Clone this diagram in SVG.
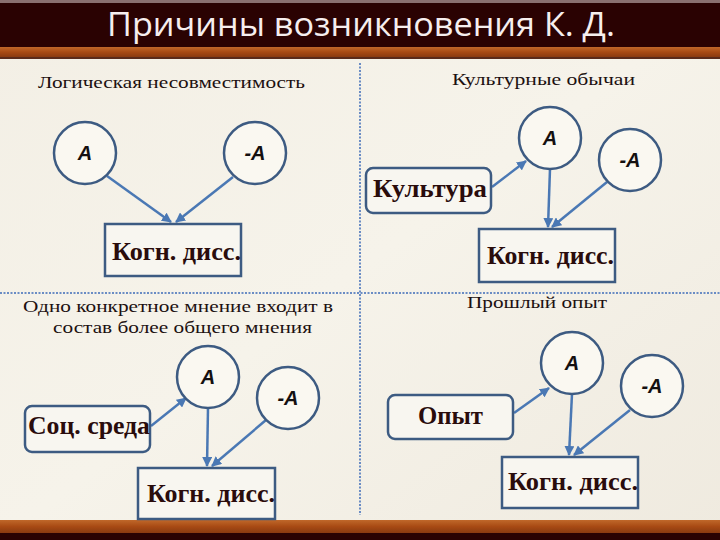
<svg xmlns="http://www.w3.org/2000/svg" width="720" height="540" viewBox="0 0 720 540">
<defs>
<linearGradient id="bg" x1="0" y1="0" x2="1" y2="1">
<stop offset="0" stop-color="#f3efe5"/>
<stop offset="0.5" stop-color="#f6f3ea"/>
<stop offset="1" stop-color="#efeadf"/>
</linearGradient>
<linearGradient id="orange" x1="0" y1="0" x2="0" y2="1">
<stop offset="0" stop-color="#c0682a"/>
<stop offset="0.5" stop-color="#a84a14"/>
<stop offset="1" stop-color="#8a3a10"/>
</linearGradient>
<marker id="ah" viewBox="0 0 10 10" refX="9" refY="5" markerWidth="4" markerHeight="4" orient="auto" markerUnits="strokeWidth">
<path d="M0,0 L10,5 L0,10 z" fill="#4a78b4"/>
</marker>
<style>
.circ{fill:#faf8f1;stroke:#3d5b82;stroke-width:2.5}
.box{fill:#f8f6f0;stroke:#3d5b82;stroke-width:2.5}
.rbox{fill:#f8f6f0;stroke:#3d5b82;stroke-width:2.5}
.cl{font-family:"Liberation Sans",Arial,sans-serif;font-weight:bold;font-style:italic;font-size:20px;fill:#141010;text-anchor:middle}
.hd{font-family:"Liberation Serif","DejaVu Serif",serif;font-size:17px;fill:#1c1010}
.lb{font-family:"Liberation Serif","DejaVu Serif",serif;font-weight:bold;font-size:25px;fill:#2a0c0c}
.conn line{stroke:#4a78b4;stroke-width:2.5;marker-end:url(#ah)}
.div{stroke:#6a8cc4;stroke-width:2;stroke-dasharray:2 1.5;fill:none}
</style>
</defs>
<rect x="0" y="0" width="720" height="540" fill="url(#bg)"/>
<rect x="0" y="0" width="720" height="3" fill="#8a7070"/>
<rect x="0" y="3" width="720" height="44" fill="#2a0202"/>
<rect x="0" y="47" width="720" height="10" fill="url(#orange)"/>
<rect x="0" y="57" width="720" height="2" fill="#5a2a1a"/>
<rect x="0" y="520" width="720" height="13" fill="url(#orange)"/>
<rect x="0" y="533" width="720" height="7" fill="#2a0202"/>
<text x="107" y="36" font-family="'Open Sans','DejaVu Sans',sans-serif" font-size="32" fill="#f6eeee" textLength="508" lengthAdjust="spacingAndGlyphs">Причины возникновения К. Д.</text>

<line class="div" x1="0" y1="293" x2="720" y2="293"/>
<line class="div" x1="360" y1="63" x2="360" y2="515"/>

<text class="hd" x="38" y="88" textLength="267" lengthAdjust="spacingAndGlyphs">Логическая несовместимость</text>
<text class="hd" x="452" y="85" textLength="183" lengthAdjust="spacingAndGlyphs">Культурные обычаи</text>
<text class="hd" x="23" y="312" textLength="310" lengthAdjust="spacingAndGlyphs">Одно конкретное мнение входит в</text>
<text class="hd" x="53" y="333" textLength="259" lengthAdjust="spacingAndGlyphs">состав более общего мнения</text>
<text class="hd" x="467" y="308" textLength="140" lengthAdjust="spacingAndGlyphs">Прошлый опыт</text>

<g id="connectors" class="conn">
<line x1="107" y1="176" x2="171" y2="222"/>
<line x1="233" y1="177" x2="176" y2="222"/>
<line x1="492" y1="187" x2="526" y2="161"/>
<line x1="550" y1="169" x2="548" y2="227"/>
<line x1="607" y1="182" x2="552" y2="227"/>
<line x1="151" y1="426" x2="186" y2="398"/>
<line x1="208" y1="408" x2="207" y2="466"/>
<line x1="266" y1="420" x2="212" y2="466"/>
<line x1="514" y1="413" x2="549" y2="388"/>
<line x1="572" y1="394" x2="569" y2="455"/>
<line x1="630" y1="410" x2="574" y2="455"/>
</g>

<g id="q1-a"><circle class="circ" cx="85" cy="153" r="31"/><text class="cl" x="85" y="160">A</text></g>
<g id="q1-na"><circle class="circ" cx="255" cy="153" r="31"/><text class="cl" x="255" y="160">-A</text></g>
<g id="q1-kd"><rect class="box" x="105" y="224" width="136" height="52"/><text class="lb" x="112" y="260" textLength="129" lengthAdjust="spacingAndGlyphs">Когн. дисс.</text></g>

<g id="q2-a"><circle class="circ" cx="550" cy="138" r="31"/><text class="cl" x="550" y="145">A</text></g>
<g id="q2-na"><circle class="circ" cx="630" cy="160" r="31"/><text class="cl" x="630" y="167">-A</text></g>
<g id="q2-kult"><rect class="rbox" x="366" y="168" width="125" height="45" rx="7"/><text class="lb" x="373" y="197" font-size="27" textLength="114" lengthAdjust="spacingAndGlyphs">Культура</text></g>
<g id="q2-kd"><rect class="box" x="479" y="229" width="136" height="53"/><text class="lb" x="487" y="264" textLength="127" lengthAdjust="spacingAndGlyphs">Когн. дисс.</text></g>

<g id="q3-a"><circle class="circ" cx="208" cy="377" r="31"/><text class="cl" x="208" y="384">A</text></g>
<g id="q3-na"><circle class="circ" cx="288" cy="398" r="31"/><text class="cl" x="288" y="405">-A</text></g>
<g id="q3-soc"><rect class="rbox" x="25" y="406" width="125" height="46" rx="7"/><text class="lb" x="28" y="434" font-size="27" textLength="122" lengthAdjust="spacingAndGlyphs">Соц. среда</text></g>
<g id="q3-kd"><rect class="box" x="138" y="468" width="137" height="51"/><text class="lb" x="147" y="502" textLength="128" lengthAdjust="spacingAndGlyphs">Когн. дисс.</text></g>

<g id="q4-a"><circle class="circ" cx="572" cy="363" r="31"/><text class="cl" x="572" y="370">A</text></g>
<g id="q4-na"><circle class="circ" cx="652" cy="386" r="31"/><text class="cl" x="652" y="393">-A</text></g>
<g id="q4-opyt"><rect class="rbox" x="388" y="395" width="125" height="44" rx="7"/><text class="lb" x="418" y="424" textLength="65" lengthAdjust="spacingAndGlyphs">Опыт</text></g>
<g id="q4-kd"><rect class="box" x="502" y="457" width="136" height="51"/><text class="lb" x="508" y="490" textLength="130" lengthAdjust="spacingAndGlyphs">Когн. дисс.</text></g>
</svg>
